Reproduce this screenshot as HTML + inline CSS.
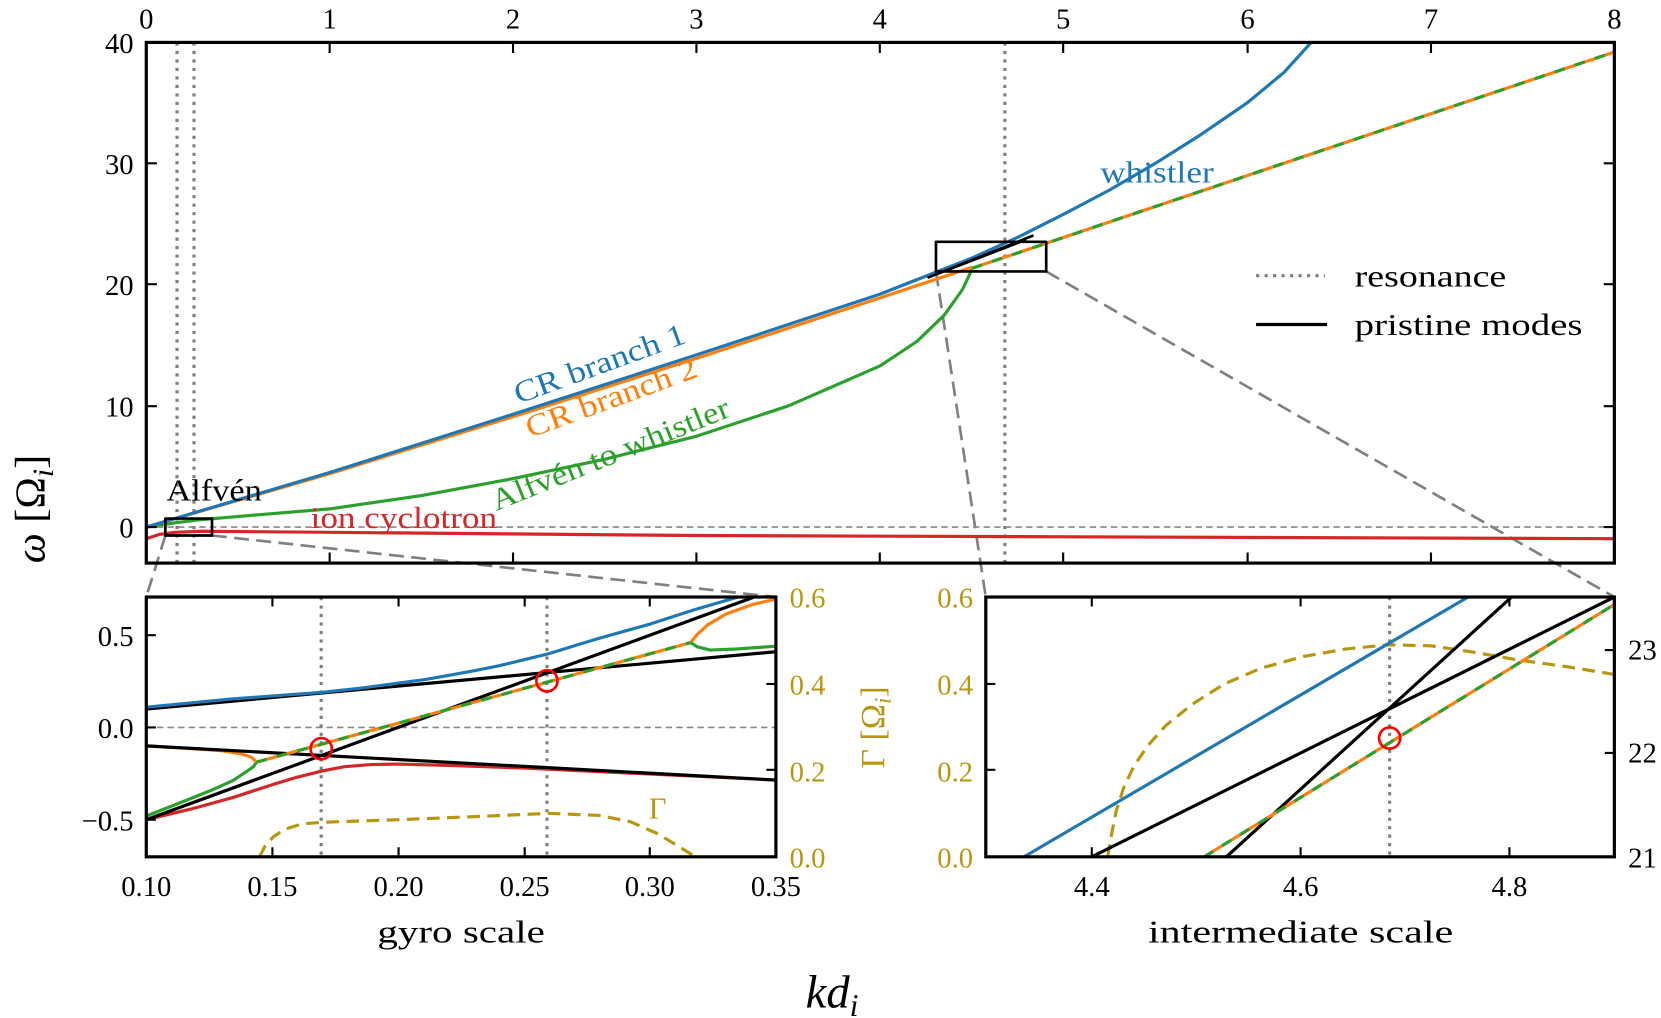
<!DOCTYPE html>
<html><head><meta charset="utf-8"><style>
html,body{margin:0;padding:0;background:#fff}
svg{display:block}
text{font-family:"Liberation Serif",serif}
</style></head><body>
<svg width="1661" height="1018" viewBox="0 0 1567 960" preserveAspectRatio="none" xmlns="http://www.w3.org/2000/svg">
<defs>
<clipPath id="cm"><rect x="138" y="40" width="1385" height="491"/></clipPath>
<clipPath id="cg"><rect x="138" y="563" width="594" height="245"/></clipPath>
<clipPath id="ci"><rect x="930" y="563" width="593" height="245"/></clipPath>
</defs>
<g stroke="#808080" stroke-width="2.5" stroke-dasharray="14,7" fill="none">
<line x1="156" y1="505" x2="138" y2="563"/><line x1="200" y1="505" x2="732" y2="563"/>
<line x1="883" y1="256" x2="930" y2="563"/><line x1="987" y1="256" x2="1523" y2="563"/>
</g>
<g clip-path="url(#cm)" fill="none" stroke-linejoin="round">
<line x1="138" y1="497" x2="1523" y2="497" stroke="#888" stroke-width="1.5" stroke-dasharray="6,4"/>
<g stroke="#808080" stroke-width="3" stroke-dasharray="3,5"><line x1="167" y1="40" x2="167" y2="531"/><line x1="183" y1="40" x2="183" y2="531"/><line x1="948" y1="40" x2="948" y2="531"/></g>
<polyline stroke="#d62728" stroke-width="3" points="138,508 150,504 165,502 190,501 311,502 657,505 1523,508"/>
<polyline stroke="#2ca02c" stroke-width="3" points="138,497 165,493 190,490 242,485.6 311,479.9 397.7,467.3 484.2,451.3 570.8,433 657.3,411.3 743.9,382.7 830.4,345 865,322 891,297 908,273 917,254"/>
<polyline stroke="#ff7f0e" stroke-width="3" points="138,497 311,446.7 484,393 657,338 830,281 917,252"/>
<polyline stroke="#1f77b4" stroke-width="3" points="138,497 311,445.6 484,390.7 657,334.7 830,277.5 917,243.3 960.2,223.8 1003.5,202 1046.8,179.2 1090,154 1133.3,126.7 1176.6,97 1211.2,68.4 1237,40"/>
<line x1="875" y1="262" x2="975" y2="222" stroke="#000" stroke-width="2.5"/>
<line x1="885" y1="258" x2="968" y2="226" stroke="#000" stroke-width="2.5"/>
<line x1="917" y1="253" x2="1523" y2="49" stroke="#ff7f0e" stroke-width="3"/>
<line x1="917" y1="253" x2="1523" y2="49" stroke="#2ca02c" stroke-width="3" stroke-dasharray="10,10"/>
<rect x="156" y="489" width="44" height="16" stroke="#000" stroke-width="2.5"/>
<rect x="883" y="228" width="104" height="28" stroke="#000" stroke-width="2.5"/>
</g>
<rect x="138" y="40" width="1385" height="491" fill="none" stroke="#000" stroke-width="3"/>
<path stroke="#000" stroke-width="2" d="M311,40v10M484,40v10M657,40v10M830,40v10M1003,40v10M1177,40v10M1350,40v10M311,531v-10M484,531v-10M657,531v-10M830,531v-10M1003,531v-10M1177,531v-10M1350,531v-10M138,154h10M138,268h10M138,383h10M138,497h10M1523,154h-10M1523,268h-10M1523,383h-10M1523,497h-10"/>
<g font-size="27" text-anchor="middle">
<text x="138" y="27">0</text><text x="311" y="27">1</text><text x="484" y="27">2</text><text x="657" y="27">3</text><text x="830" y="27">4</text><text x="1003" y="27">5</text><text x="1177" y="27">6</text><text x="1350" y="27">7</text><text x="1523" y="27">8</text>
</g>
<g font-size="27" text-anchor="end">
<text x="126" y="50">40</text><text x="126" y="164">30</text><text x="126" y="278">20</text><text x="126" y="393">10</text><text x="126" y="507">0</text>
</g>
<line x1="1185" y1="260" x2="1250" y2="260" stroke="#808080" stroke-width="3" stroke-dasharray="3,5"/>
<line x1="1185" y1="306" x2="1252" y2="306" stroke="#000" stroke-width="3"/>
<text x="1278" y="270" font-size="29" textLength="143" lengthAdjust="spacingAndGlyphs">resonance</text>
<text x="1278" y="316" font-size="29" textLength="215" lengthAdjust="spacingAndGlyphs">pristine modes</text>
<g font-size="29">
<text x="1038" y="172" fill="#1f77b4" textLength="107" lengthAdjust="spacingAndGlyphs">whistler</text>
<text x="489" y="381" fill="#1f77b4" transform="rotate(-20 489 381)" textLength="170" lengthAdjust="spacingAndGlyphs">CR branch 1</text>
<text x="500" y="413" fill="#ff7f0e" transform="rotate(-20 500 413)" textLength="170" lengthAdjust="spacingAndGlyphs">CR branch 2</text>
<text x="468" y="482" fill="#2ca02c" transform="rotate(-22 468 482)" textLength="240" lengthAdjust="spacingAndGlyphs">Alfvén to whistler</text>
<text x="157" y="472" textLength="90" lengthAdjust="spacingAndGlyphs">Alfvén</text>
<text x="293" y="498" fill="#d62728" textLength="176" lengthAdjust="spacingAndGlyphs">ion cyclotron</text>
</g>
<g clip-path="url(#cg)" fill="none" stroke-linejoin="round">
<line x1="138" y1="686" x2="732" y2="686" stroke="#888" stroke-width="1.5" stroke-dasharray="6,4"/>
<g stroke="#808080" stroke-width="3" stroke-dasharray="3,5"><line x1="303" y1="563" x2="303" y2="808"/><line x1="516" y1="563" x2="516" y2="808"/></g>
<polyline stroke="#b8970f" stroke-width="3" stroke-dasharray="12,7" points="244.9,808 250,798 258,789 268.7,782 285,777 304,775.4 375.6,773 450,770 518,767 565.7,769 595,775 620,786 640,798 656,808"/>
<polyline stroke="#d62728" stroke-width="3" points="138,773 180,763 220,752 256.8,740 280,733 304,727 325,723 350,721 375.6,720.5 430,722 494.4,724.3 732,735.6"/>
<polyline stroke="#2ca02c" stroke-width="3" points="138,769.5 170,757 200,745 220,736 232,728 239,723 242,718.7"/>
<polyline stroke="#ff7f0e" stroke-width="3" points="138,703.4 180,706 210,708 228,711 237,714 242,718.7"/>
<polyline stroke="#ff7f0e" stroke-width="3" points="651.5,606 658,598 668,589 685,579 710,570 732,565"/>
<polyline stroke="#2ca02c" stroke-width="3" points="651.5,606 658,610 670,613 695,612 732,609.4"/>
<line x1="138" y1="773" x2="710.6" y2="563.3" stroke="#000" stroke-width="3"/>
<line x1="138" y1="668.6" x2="732" y2="614.6" stroke="#000" stroke-width="3"/>
<line x1="138" y1="703.4" x2="732" y2="735.6" stroke="#000" stroke-width="3"/>
<polyline stroke="#1f77b4" stroke-width="3" points="138,666.9 220,659 304,652.9 340,649 370,645 400,641 423,637 450,632 470,628 495,622 518,616.4 545,608 565,602 590,595 613,588.6 655,575 696.4,563"/>
<line x1="242" y1="718.7" x2="651.5" y2="606" stroke="#ff7f0e" stroke-width="3"/>
<line x1="242" y1="718.7" x2="651.5" y2="606" stroke="#2ca02c" stroke-width="3" stroke-dasharray="10,10"/>
<circle cx="303" cy="706" r="10" stroke="#ff0000" stroke-width="2.5"/>
<circle cx="516" cy="642" r="10" stroke="#ff0000" stroke-width="2.5"/>
</g>
<rect x="138" y="563" width="594" height="245" fill="none" stroke="#000" stroke-width="3"/>
<path stroke="#000" stroke-width="2" d="M257,563v9M376,563v9M495,563v9M613,563v9M257,808v-9M376,808v-9M495,808v-9M613,808v-9M138,599h9M138,686h9M138,773h9M732,645h-9M732,726h-9"/>
<text x="612" y="772" font-size="29" fill="#b8970f">Γ</text>
<g font-size="27" text-anchor="middle">
<text x="138" y="845">0.10</text><text x="257" y="845">0.15</text><text x="376" y="845">0.20</text><text x="495" y="845">0.25</text><text x="613" y="845">0.30</text><text x="732" y="845">0.35</text>
</g>
<g font-size="27" text-anchor="end"><text x="126" y="609">0.5</text><text x="126" y="696">0.0</text><text x="126" y="783">−0.5</text></g>
<g font-size="27" fill="#b8970f"><text x="745" y="573">0.6</text><text x="745" y="655">0.4</text><text x="745" y="737">0.2</text><text x="745" y="818">0.0</text></g>
<text x="0" y="0" font-size="32" fill="#b8970f" text-anchor="middle" transform="translate(834 686) rotate(-90)">Γ [Ω<tspan font-style="italic" font-size="22" dy="6">i</tspan><tspan dy="-6">]</tspan></text>
<text x="435" y="889" font-size="30" text-anchor="middle" textLength="158" lengthAdjust="spacingAndGlyphs">gyro scale</text>
<g clip-path="url(#ci)" fill="none" stroke-linejoin="round">
<line x1="1311" y1="563" x2="1311" y2="808" stroke="#808080" stroke-width="3" stroke-dasharray="3,5"/>
<polyline stroke="#b8970f" stroke-width="3" stroke-dasharray="12,7" points="1045,808 1048,790 1053,765 1060,743 1070,722 1083,703 1100,684 1125,664 1155,645 1190,630 1230,619 1270,612 1310,608 1350,609 1390,615 1430,622 1480,629 1523,636"/>
<line x1="966" y1="808" x2="1385" y2="563" stroke="#1f77b4" stroke-width="3"/>
<line x1="1030" y1="808" x2="1523" y2="563" stroke="#000" stroke-width="3"/>
<line x1="1157" y1="808" x2="1426" y2="563" stroke="#000" stroke-width="3"/>
<line x1="1136" y1="808" x2="1523" y2="570" stroke="#ff7f0e" stroke-width="3"/>
<line x1="1136" y1="808" x2="1523" y2="570" stroke="#2ca02c" stroke-width="3" stroke-dasharray="10,10"/>
<circle cx="1311" cy="696" r="10" stroke="#ff0000" stroke-width="2.5"/>
</g>
<rect x="930" y="563" width="593" height="245" fill="none" stroke="#000" stroke-width="3"/>
<path stroke="#000" stroke-width="2" d="M1030,563v9M1227,563v9M1424,563v9M1030,808v-9M1227,808v-9M1424,808v-9M930,645h9M930,726h9M1523,613h-9M1523,710h-9"/>
<g font-size="27" text-anchor="middle"><text x="1030" y="845">4.4</text><text x="1227" y="845">4.6</text><text x="1424" y="845">4.8</text></g>
<g font-size="27" fill="#b8970f" text-anchor="end"><text x="918" y="573">0.6</text><text x="918" y="655">0.4</text><text x="918" y="737">0.2</text><text x="918" y="818">0.0</text></g>
<g font-size="27"><text x="1536" y="622">23</text><text x="1536" y="719">22</text><text x="1536" y="818">21</text></g>
<text x="1227" y="889" font-size="30" text-anchor="middle" textLength="288" lengthAdjust="spacingAndGlyphs">intermediate scale</text>
<text x="0" y="0" font-size="40" text-anchor="middle" transform="translate(42 480) rotate(-90)"><tspan font-style="italic">ω</tspan> [Ω<tspan font-style="italic" font-size="28" dy="8">i</tspan><tspan dy="-8">]</tspan></text>
<text x="785" y="950" font-size="44" text-anchor="middle" font-style="italic">kd<tspan font-size="30" dy="8">i</tspan></text>
</svg>
</body></html>
